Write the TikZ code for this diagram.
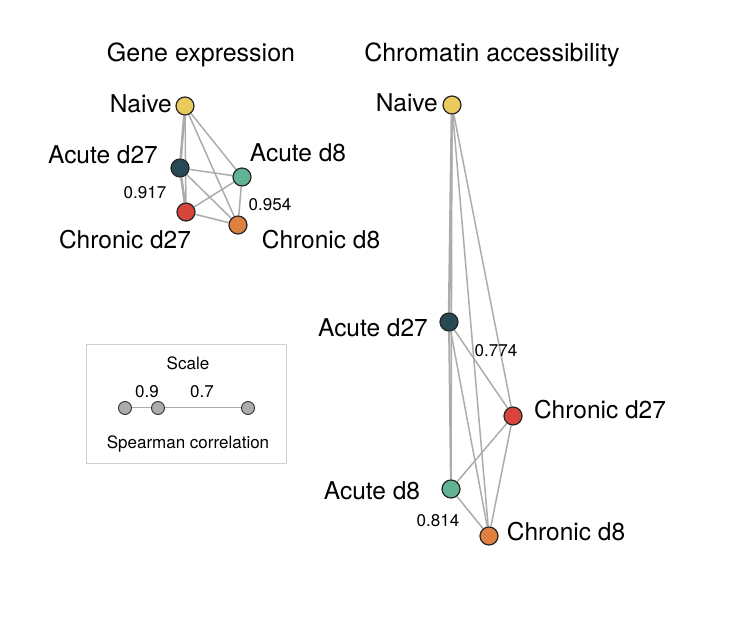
\documentclass[tikz,border=0pt]{standalone}
\usepackage{fontspec}
\setmainfont{TeX Gyre Heros}
\usepackage{xcolor}
\usepackage{tikz}
\usetikzlibrary{positioning,backgrounds}
\definecolor{naivecol}{RGB}{234,202,92}
\definecolor{acdlate}{RGB}{40,72,84}
\definecolor{acdearly}{RGB}{96,180,148}
\definecolor{chdlate}{RGB}{214,68,60}
\definecolor{chdearly}{RGB}{222,128,64}
\tikzset{
  cell/.style={circle, draw=black!85, line width=1.2pt, minimum size=18pt, inner sep=0pt},
  lbl/.style={font=\fontsize{24.5}{28}\selectfont, inner sep=1pt},
  corr/.style={font=\fontsize{17}{20}\selectfont, inner sep=1pt},
  ttl/.style={font=\fontsize{25}{28}\selectfont, inner sep=1pt},
  link/.style={draw=gray!65, line width=1.5pt},
  strong/.style={link, line width=2.6pt},
  scaledot/.style={circle, draw=gray!40!black, fill=gray!65, line width=0.9pt, minimum size=13pt, inner sep=0pt}
}

\begin{document}
\begin{tikzpicture}[x=1pt,y=-1pt]
    \useasboundingbox (0,0) rectangle (756,631);
    % gene expression
    \node[ttl] (tg) at (201,55) {Gene expression};
    \node[cell, fill=naivecol] (gn) at (185,106) {};
    \node[cell, fill=acdlate] (gal) at (180,168) {};
    \node[cell, fill=acdearly] (gae) at (242,177) {};
    \node[cell, fill=chdlate] (gcl) at (186,212) {};
    \node[cell, fill=chdearly] (gce) at (238,225) {};
    \node[lbl, anchor=east] (lgn) at (173,104) {Naive};
    \node[lbl] (lgal) at (103,155) {Acute d27};
    \node[lbl] (lgae) at (298,153) {Acute d8};
    \node[lbl] (lgcl) at (125,240) {Chronic d27};
    \node[lbl] (lgce) at (321,240) {Chronic d8};
    \node[corr] (cg1) at (145,193) {0.917};
    \node[corr] (cg2) at (270,205) {0.954};
    \begin{scope}[on background layer]
      \draw[strong] (gn) -- (gal);
      \draw[strong] (gal) -- (gcl);
      \draw[link] (gn) -- (gae);
      \draw[link] (gn) -- (gcl);
      \draw[link] (gn) -- (gce);
      \draw[link] (gal) -- (gae);
      \draw[link] (gal) -- (gce);
      \draw[link] (gae) -- (gcl);
      \draw[link] (gae) -- (gce);
      \draw[link] (gcl) -- (gce);
    \end{scope}

    % chromatin accessibility
    \node[ttl] (tc) at (492,55) {Chromatin accessibility};
    \node[cell, fill=naivecol] (cn) at (452,105) {};
    \node[cell, fill=acdlate] (cal) at (449,322) {};
    \node[cell, fill=chdlate] (ccl) at (513,416) {};
    \node[cell, fill=acdearly] (cae) at (451,489) {};
    \node[cell, fill=chdearly] (cce) at (489,536) {};
    \node[lbl, anchor=east] (lcn) at (439,103) {Naive};
    \node[lbl] (lcal) at (373,328) {Acute d27};
    \node[lbl] (lccl) at (600,410) {Chronic d27};
    \node[lbl] (lcae) at (372,491) {Acute d8};
    \node[lbl] (lcce) at (566,532) {Chronic d8};
    \node[corr] (cc1) at (496,351) {0.774};
    \node[corr] (cc2) at (438,521) {0.814};
    \begin{scope}[on background layer]
      \draw[strong] (cn) -- (cal);
      \draw[link] (cn) -- (cae);
      \draw[link] (cn) -- (ccl);
      \draw[link] (cn) -- (cce);
      \draw[link, line width=2pt] (cal) -- (cae);
      \draw[link] (cal) -- (ccl);
      \draw[link] (cal) -- (cce);
      \draw[link] (cae) -- (ccl);
      \draw[link] (cae) -- (cce);
      \draw[link] (ccl) -- (cce);
    \end{scope}

    % legend
    \node[draw=gray!35, line width=1pt, minimum width=200pt, minimum height=118pt] (leg) at (186,404) {};
    \node[corr] (lsc) at (188,363) {Scale};
    \node[scaledot] (d1) at (125,408) {};
    \node[scaledot] (d2) at (158,408) {};
    \node[scaledot] (d3) at (248,408) {};
    \node[corr] (v1) at (147,392) {0.9};
    \node[corr] (v2) at (202,392) {0.7};
    \node[corr] (lsp) at (188,444) {Spearman correlation};
    \draw[link, line width=1pt] (d1) -- (d2);
    \draw[link, line width=1pt] (d2) -- (d3);
  \end{tikzpicture}
\end{document}
